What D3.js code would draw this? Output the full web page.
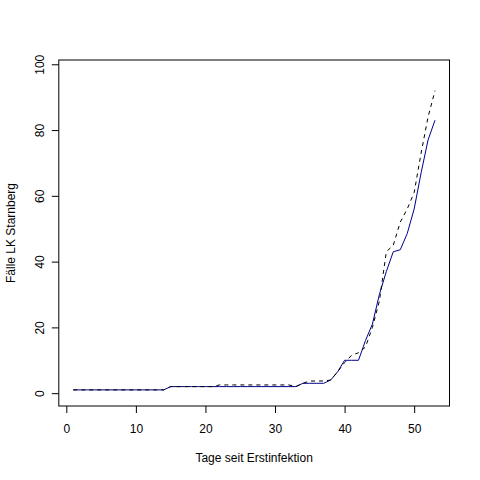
<!DOCTYPE html>
<html>
<head>
<meta charset="utf-8">
<script src="https://cdn.jsdelivr.net/npm/d3@7"></script>
<style>
  body { margin: 0; background: #fff; }
  text { font-family: "Liberation Sans", Arial, sans-serif; }
</style>
</head>
<body>
<script>
// Tage seit Erstinfektion
var days = d3.range(1, 54);

// durchgezogene blaue Linie
var solidCases = [
  1, 1, 1, 1, 1, 1, 1, 1, 1, 1, 1, 1, 1, 1,
  2, 2, 2, 2, 2, 2, 2, 2, 2, 2, 2, 2, 2, 2, 2, 2, 2, 2, 2,
  3, 3, 3, 3, 4, 6.5, 10, 10, 10, 16, 21, 30, 37, 43, 43.6, 48.5, 56, 67, 77, 83
];

// gestrichelte schwarze Linie
var dashedCases = [
  1, 1, 1, 1, 1, 1, 1, 1, 1, 1, 1, 1, 1, 1,
  2, 2, 2, 2, 2, 2, 2, 2.5, 2.5, 2.5, 2.5, 2.5, 2.5, 2.5, 2.5, 2.5, 2.5, 2.5, 2,
  3, 3.7, 3.7, 3.7, 4, 6.5, 9.3, 11.5, 12.3, 14, 20, 28, 43, 45, 52, 56, 61, 73, 84, 92
];

var xTicks = [0, 10, 20, 30, 40, 50];
var yTicks = [0, 20, 40, 60, 80, 100];

function init(){
    var width = 480, height = 480;
    var left = 58.8, right = 449.5, top = 60, bottom = 406;

    var svg = d3.select("body")
                .append("svg")
                .attr("width", width)
                .attr("height", height);

    svg.append("rect")
       .attr("width", width).attr("height", height)
       .attr("fill", "#fff");

    var x = d3.scaleLinear().domain([-1.08, 55.08]).range([left, right]);
    var y = d3.scaleLinear().domain([-3.9, 101.3]).range([bottom, top]);

    // x-Achse
    var xAxis = svg.append("g")
        .attr("transform", "translate(0," + bottom + ")")
        .call(d3.axisBottom(x).tickValues(xTicks).tickSize(7).tickPadding(11).tickFormat(d3.format("d")));
    xAxis.select(".domain").remove();
    xAxis.selectAll("line").attr("stroke", "#000");
    xAxis.selectAll("text").attr("font-size", 12).attr("fill", "#000");

    // y-Achse, Beschriftung gedreht wie in R
    var yAxis = svg.append("g")
        .attr("transform", "translate(" + left + ",0)")
        .call(d3.axisLeft(y).tickValues(yTicks).tickSize(7).tickFormat(d3.format("d")));
    yAxis.select(".domain").remove();
    yAxis.selectAll("line").attr("stroke", "#000");
    yAxis.selectAll("text")
        .attr("font-size", 12).attr("fill", "#000")
        .attr("x", 0).attr("dy", "0.35em")
        .attr("text-anchor", "middle")
        .attr("transform", "translate(-19.5,0) rotate(-90)");

    var line = function(values){
        return d3.line()
            .x(function(d, i) { return x(days[i]); })
            .y(function(d) { return y(d); })(values);
    };

    svg.append("path")
       .attr("d", line(solidCases))
       .attr("fill", "none")
       .attr("stroke", "#00008B")
       .attr("stroke-width", 1);

    svg.append("path")
       .attr("d", line(dashedCases))
       .attr("fill", "none")
       .attr("stroke", "#000")
       .attr("stroke-width", 1)
       .attr("stroke-dasharray", "4,4");

    // Rahmen
    svg.append("rect")
       .attr("x", left).attr("y", top)
       .attr("width", right - left).attr("height", bottom - top)
       .attr("fill", "none").attr("stroke", "#000");

    svg.append("text")
       .attr("x", (left + right) / 2).attr("y", 462.3)
       .attr("text-anchor", "middle").attr("font-size", 12)
       .text("Tage seit Erstinfektion");

    svg.append("text")
       .attr("transform", "translate(14.5," + (top + bottom) / 2 + ") rotate(-90)")
       .attr("text-anchor", "middle").attr("font-size", 12)
       .text("Fälle LK Starnberg");
}

window.onload = init;
</script>
</body>
</html>
